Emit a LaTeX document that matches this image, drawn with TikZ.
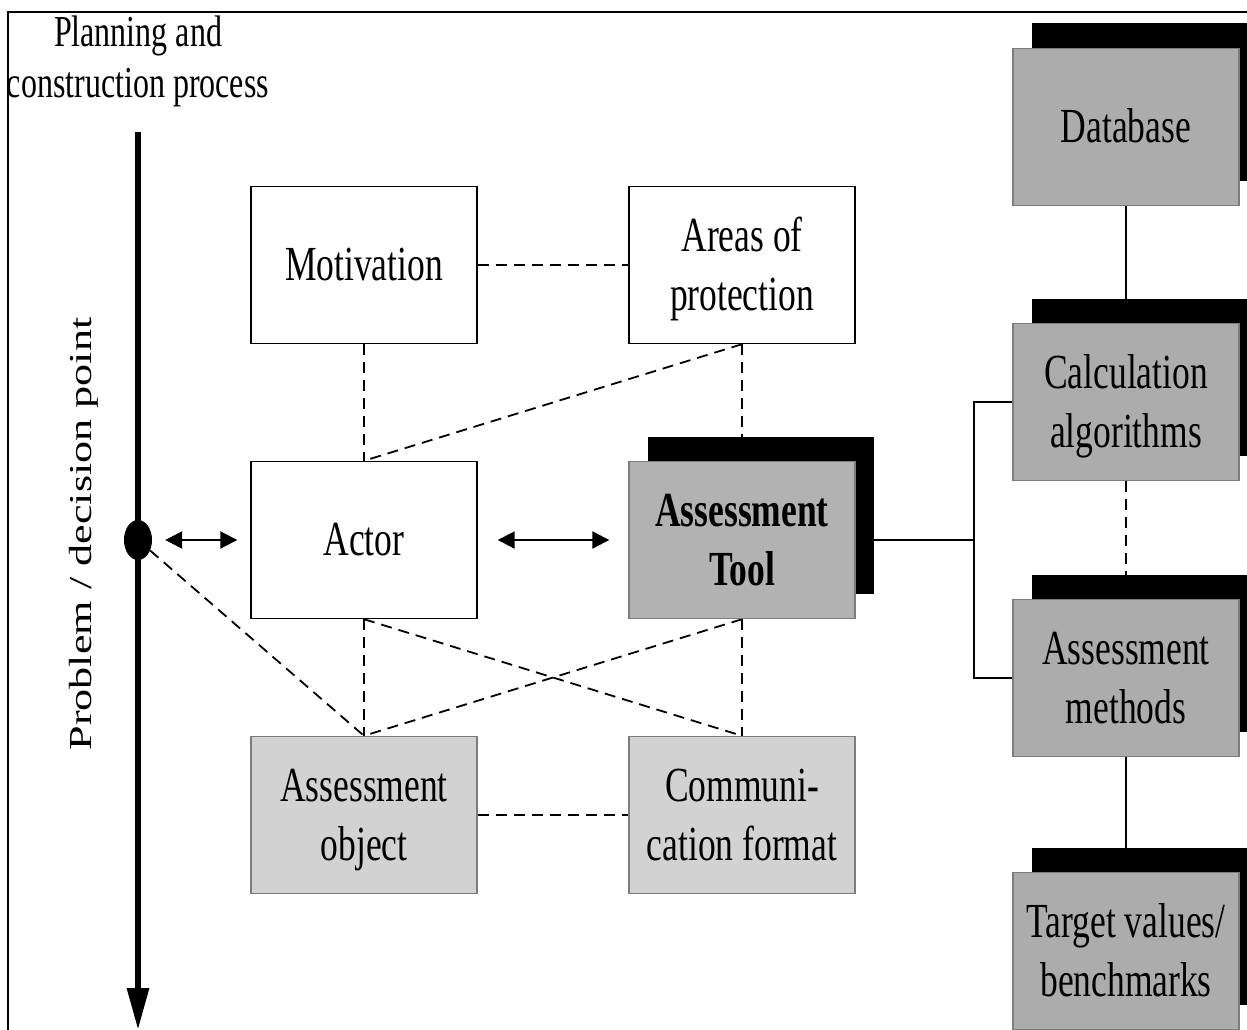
\documentclass[tikz,border=0pt]{standalone}
\usepackage{fontspec}
\setmainfont{Liberation Serif}
\usepackage{graphicx}
\usetikzlibrary{arrows.meta,shapes.geometric,shadows}
\pgfdeclarelayer{bg}
\pgfsetlayers{bg,main}
\definecolor{boxGray}{RGB}{172,172,172}
\definecolor{toolGray}{RGB}{178,178,178}
\definecolor{paleGray}{RGB}{210,210,210}
\definecolor{edgeGray}{RGB}{125,125,125}
% text set in tall, narrow letters, sitting slightly low in its box
\newcommand\tallbox[1]{\raisebox{-4pt}[\dimexpr\height+4pt\relax][\dimexpr\depth+4pt\relax]{%
  \scalebox{1}[1.38]{\begin{tabular}{@{}c@{}}#1\end{tabular}}}}

\begin{document}
\begin{tikzpicture}[x=1pt,y=-1pt,
  box/.style={rectangle, minimum width=226pt, minimum height=157pt, inner sep=0pt,
    line width=1.4pt, font=\fontsize{35.5}{42.6}\selectfont},
  plainbox/.style={box, draw=black, fill=white},
  palebox/.style={box, draw=edgeGray, fill=paleGray},
  shadebox/.style={box, draw=edgeGray, fill=#1,
    general shadow={fill=black, shadow xshift=19pt, shadow yshift=25pt}},
  dashline/.style={line width=1.8pt, dash pattern=on 11pt off 7pt},
  solidline/.style={line width=1.8pt},
  twoway/.style={line width=2pt,
    {Triangle[length=17pt,width=17pt]}-{Triangle[length=17pt,width=17pt]}},
  timeline/.style={line width=6pt, -{Triangle[length=42pt,width=21pt]}}
]
\useasboundingbox (0,0) rectangle (1247,1030);
\clip (0,0) rectangle (1247,1030);

% frame
\draw[line width=2pt] (8,1030) -- (8,12) -- (1247,12);

% heading and process axis
\node[anchor=base, inner sep=0pt, font=\fontsize{32}{36.5}\selectfont] (title) at (138,47)
  {\scalebox{1}[1.38]{\begin{tabular}[t]{@{}c@{}}Planning and\\construction process\end{tabular}}};
\node[inner sep=0pt, font=\fontsize{32}{38}\selectfont] (axis) at (84,534)
  {\scalebox{1}[1.38]{\rotatebox{90}{Problem / decision point}}};
\coordinate (ptop) at (138,132);
\coordinate (pbot) at (138,1030);
\node[ellipse, fill=black, minimum width=28pt, minimum height=40pt, inner sep=0pt] (dp) at (138,540) {};

% central boxes
\node[plainbox] (mot)   at (364,265) {\tallbox{Motivation}};
\node[plainbox] (area)  at (742,265) {\tallbox{Areas of\\protection}};
\node[plainbox] (actor) at (364,540) {\tallbox{Actor}};
\node[shadebox=toolGray] (tool) at (742,540) {\tallbox{\textbf{Assessment}\\\textbf{Tool}}};
\node[palebox] (obj)  at (364,815) {\tallbox{Assessment\\object}};
\node[palebox] (comm) at (742,815) {\tallbox{Communi-\\cation format}};

% tool components
\node[shadebox=boxGray] (db)     at (1126,127) {\tallbox{Database}};
\node[shadebox=boxGray] (calc)   at (1126,402) {\tallbox{Calculation\\algorithms}};
\node[shadebox=boxGray] (meth)   at (1126,678) {\tallbox{Assessment\\methods}};
\node[shadebox=boxGray] (target) at (1126,951) {\tallbox{Target values/\\benchmarks}};
\coordinate (br) at (974,540);

\begin{pgfonlayer}{bg}
  \draw[timeline] (ptop) -- (pbot);
  % dashed relations
  \draw[dashline] (mot.east) -- (area.west);
  \draw[dashline] (mot.south) -- (actor.north);
  \draw[dashline] (area.south) -- (actor.north);
  \draw[dashline] (area.south) -- (tool.north);
  \draw[dashline] (actor.south) -- (obj.north);
  \draw[dashline] (actor.south) -- (comm.north);
  \draw[dashline] (tool.south) -- (obj.north);
  \draw[dashline] (tool.south) -- (comm.north);
  \draw[dashline] (dp) -- (obj.north);
  \draw[dashline] (obj.east) -- (comm.west);
  % component chain
  \draw[solidline] (db.south) -- (calc.north);
  \draw[dashline] (calc.south) -- (meth.north);
  \draw[solidline] (meth.south) -- (target.north);
  % bracket to the tool
  \draw[solidline] (tool.east) -- (br);
  \draw[solidline] (calc.west) -| (br);
  \draw[solidline] (meth.west) -| (br);
\end{pgfonlayer}

% interactions
\draw[twoway, shorten <=13pt, shorten >=13pt] (dp.east) -- (actor.west);
\draw[twoway, shorten <=20pt, shorten >=19pt] (actor.east) -- (tool.west);
\end{tikzpicture}
\end{document}
